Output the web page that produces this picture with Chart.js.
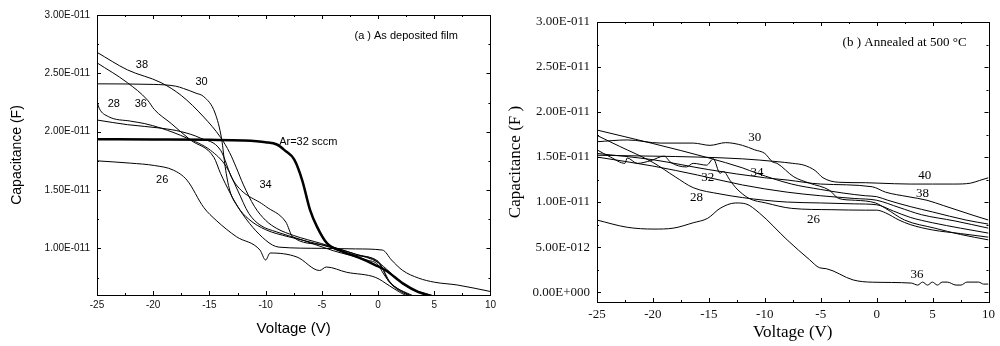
<!DOCTYPE html>
<html>
<head>
<meta charset="utf-8">
<script src="https://cdn.jsdelivr.net/npm/chart.js@4.4.1/dist/chart.umd.min.js"></script>
<style>
  html, body { margin: 0; padding: 0; background: #fff; }
  #wrap { position: relative; width: 1000px; height: 346px; }
  canvas { position: absolute; top: 0; }
</style>
</head>
<body>
<div id="wrap">
  <canvas id="chartA" width="500" height="346" style="left:0"></canvas>
  <canvas id="chartB" width="500" height="346" style="left:500px"></canvas>
</div>
<script>
// capacitance values are in pF (x 1e-12 F), voltage in V

// tick labels
const xTicks = [-25, -20, -15, -10, -5, 0, 5, 10];
const yTicksA = [10, 15, 20, 25, 30];
const yTicksB = [0, 5, 10, 15, 20, 25, 30];

// ---- (a) as deposited film ----
const a38x = [-25, -22.3, -19.3, -17.5, -15.5, -14, -13.2, -12.6, -12, -11, -10, -9, -7.5, -5, -2, 0, 0.5, 1, 2, 3];
const a38y = [26.8, 25.3, 24.2, 23.1, 21.25, 19.5, 18.2, 16.9, 15.5, 13.6, 12.4, 11.7, 11.1, 10.4, 9.5, 8.8, 8.1, 7.2, 6.4, 5.9];

const a36x = [-25, -22.3, -20.5, -19.9, -18.4, -16.7, -14.6, -14, -12.3, -10, -8.8, -5, -2, 0.4, 1.2, 2.2, 3.6, 5, 7.1, 10];
const a36y = [25.9, 24.2, 22.7, 21.9, 20.7, 19.3, 17.8, 16.4, 13.3, 10.7, 10.1, 10.0, 9.95, 9.85, 9.0, 8.1, 7.45, 7.1, 6.85, 6.3];

const a30x = [-25, -20, -18, -17.3, -16.2, -15.5, -14.5, -13.9, -13.6, -13.2, -12.5, -11.5, -10, -8, -5, -2, 0, 0.4, 0.8, 1.5, 2.5, 3.2];
const a30y = [24.1, 24.05, 23.9, 23.7, 23.3, 23.0, 21.6, 19.3, 17.0, 15.0, 13.6, 12.5, 11.6, 11.0, 10.3, 9.4, 8.9, 8.3, 7.4, 6.7, 6.2, 5.9];

const a28x = [-25, -24.8, -24, -22, -20.8, -19.3, -17, -14.9, -13.5, -12.5, -11.5, -10.5, -9, -7, -4, -1, 0, 0.5, 1.2, 2.2, 3];
const a28y = [22.6, 22.0, 21.3, 20.9, 20.7, 20.3, 19.45, 18.4, 17.0, 15.0, 13.0, 12.0, 11.4, 10.8, 9.8, 9.0, 8.6, 7.8, 6.9, 6.2, 5.9];

const a34x = [-25, -22.3, -19.3, -17.5, -15.8, -14, -12.9, -10, -8.2, -7.6, -5, -2, 0, 1, 2, 3, 4, 5];
const a34y = [21.0, 20.6, 20.3, 20.0, 19.45, 18.4, 15.85, 13.6, 12.25, 11.0, 10.3, 9.5, 8.8, 8.0, 7.1, 6.5, 6.2, 5.9];

const a32x = [-25, -20, -15, -12, -10, -9, -8.3, -7.45, -6.75, -6.05, -5.4, -4.55, -3.1, -1.7, -0.2, 0.7, 2.2, 3.6, 4.8];
const a32y = [19.35, 19.33, 19.3, 19.25, 19.1, 18.9, 18.4, 17.6, 15.85, 13.3, 11.8, 10.45, 9.7, 9.2, 8.55, 8.1, 7.0, 6.25, 5.9];

const a26x = [-25, -22, -19.9, -18.2, -17, -15.5, -14.4, -12.6, -10.5, -10, -9.6, -7.2, -5.2, -4.6, -2.8, -0.2, 1, 2, 2.6];
const a26y = [17.5, 17.3, 17.1, 16.7, 15.85, 13.5, 12.4, 11.0, 9.85, 9.0, 9.6, 9.25, 8.1, 8.4, 7.95, 7.5, 6.8, 6.2, 5.9];

// ---- (b) annealed at 500 C ----
const b40x = [-25, -20, -16, -12, -9, -7.5, -6.5, -5.5, -4.8, -3.4, -1, 0.2, 3, 5, 6.9, 8.4, 9.2, 10];
const b40y = [15.2, 15.1, 15.0, 14.8, 14.5, 14.3, 14.1, 13.5, 12.7, 12.2, 12.15, 12.1, 12.0, 12.0, 12.0, 12.1, 12.4, 12.7];

const b30x = [-25, -22.3, -19.3, -16.4, -14.9, -13.5, -12, -10.9, -10, -9.3, -8.9, -7.4, -6, -4.2, -3.4, -1.9, -0.1, 0.8, 2.5, 5.2, 7.5, 10];
const b30y = [16.7, 16.9, 16.55, 16.55, 16.3, 16.6, 16.3, 15.8, 15.4, 14.45, 14.3, 12.8, 12.1, 11.3, 10.4, 10.2, 9.9, 9.3, 8.0, 7.1, 6.4, 5.8];

const b34x = [-25, -20, -15, -12, -10.7, -7.6, -5, -3, -1, 0, 1, 3, 5, 8, 10];
const b34y = [18.0, 16.5, 14.9, 13.8, 13.2, 12.0, 11.4, 11.0, 10.7, 10.6, 10.2, 9.5, 8.9, 8.0, 7.55];

const b38x = [-25, -20, -15, -10, -8, -5, -0.4, 0.8, 2.8, 4.5, 6, 8.7, 10];
const b38y = [15.4, 14.7, 13.6, 12.7, 12.45, 12.0, 11.7, 11.1, 10.6, 10.2, 9.6, 8.5, 8.0];

const b28x = [-25, -23, -20, -18, -16.4, -14, -12, -10, -8, -5, -2, 0, 1.5, 3, 5, 7.5, 10];
const b28y = [17.4, 16.2, 14.4, 12.8, 11.6, 10.9, 10.5, 10.2, 10.0, 9.9, 9.8, 9.7, 9.0, 8.3, 7.7, 7.1, 6.55];

const b32x = [-25, -23.8, -22.5, -22.3, -21.4, -20.2, -19, -18.4, -17, -16.4, -15.2, -14.6, -14, -13.7, -13.1, -12.6, -11.4, -9.9, -7.6, -4, -1, 0, 0.8, 2, 3, 5, 7.5, 10];
const b32y = [15.8, 15.0, 14.3, 14.9, 14.3, 14.6, 15.1, 14.4, 13.9, 14.3, 14.1, 14.8, 13.2, 13.4, 12.4, 11.6, 10.4, 9.9, 9.3, 9.15, 9.1, 9.1, 8.8, 8.0, 7.5, 6.9, 6.5, 6.1];

const b26x = [-25, -20, -16, -12, -8, -5, -2, 0, 2, 4, 7, 10];
const b26y = [15.0, 14.0, 13.0, 11.9, 11.1, 10.7, 10.4, 10.2, 9.4, 8.6, 7.9, 7.1];

const b36x = [-25, -22.3, -19.9, -18.2, -16.4, -15.1, -14, -12.6, -11.7, -10.5, -8, -6, -5.1, -4.5, -2.1, -0.4, 3.1, 3.67, 4.11, 4.55, 4.99, 5.43, 5.87, 6.31, 7.1, 7.54, 8.07, 9.12, 9.56, 10];
const b36y = [8.0, 7.2, 7.0, 7.1, 7.7, 8.2, 9.3, 9.9, 9.8, 8.8, 5.8, 3.6, 2.7, 2.6, 1.35, 1.1, 1.0, 0.78, 1.11, 0.78, 1.11, 0.78, 1.11, 1.11, 0.78, 0.78, 1.11, 1.11, 0.89, 0.89];

// curve labels (text, voltage, capacitance)
const labelsA = [
  ['38', -21, 25.7], ['30', -15.7, 24.3], ['28', -23.5, 22.4], ['36', -21.1, 22.4],
  ['Ar=32 sccm', -6.2, 19.1], ['34', -10, 15.4], ['26', -19.2, 15.85],
  ['(a ) As deposited film', 2.5, 28.2]
];
const labelsB = [
  ['30', -10.9, 17.2], ['34', -10.7, 13.3], ['32', -15.1, 12.7], ['28', -16.1, 10.55],
  ['40', 4.3, 12.9], ['38', 4.1, 10.9], ['26', -5.65, 8.1], ['36', 3.6, 2.0],
  ['(b ) Annealed at 500 \u00B0C', 2.5, 27.7]
];

function pts(xs, ys) {
  return xs.map((v, i) => ({ x: v, y: ys[i] }));
}

// 3.00E-011 style labels
function sci(v) {
  const s = (v * 1e-12).toExponential(2);
  const [m, e] = s.split('e');
  const sign = e[0] === '-' ? '-' : '+';
  return m + 'E' + sign + String(Math.abs(parseInt(e))).padStart(3, '0');
}

// box around plot + inward ticks on all four sides
const frameTicks = {
  id: 'frameTicks',
  afterDatasetsDraw(chart, args, opts) {
    const { ctx, chartArea: a, scales: { x, y } } = chart;
    ctx.save();
    ctx.strokeStyle = '#000';
    ctx.lineWidth = 1;
    ctx.strokeRect(Math.round(a.left) + 0.5, Math.round(a.top) + 0.5,
      Math.round(a.right - a.left), Math.round(a.bottom - a.top));
    const minorOf = (maj, lo, hi) => {
      const step = maj[1] - maj[0];
      const out = [];
      for (let v = maj[0] - step / 2; v <= hi; v += step) if (v >= lo) out.push(v);
      return out;
    };
    const vline = (v, len) => {
      const p = Math.round(x.getPixelForValue(v)) + 0.5;
      ctx.moveTo(p, a.bottom); ctx.lineTo(p, a.bottom - len);
      ctx.moveTo(p, a.top); ctx.lineTo(p, a.top + len);
    };
    const hline = (v, len) => {
      const p = Math.round(y.getPixelForValue(v)) + 0.5;
      ctx.moveTo(a.left, p); ctx.lineTo(a.left + len, p);
      ctx.moveTo(a.right, p); ctx.lineTo(a.right - len, p);
    };
    ctx.beginPath();
    xTicks.forEach(v => vline(v, opts.major));
    minorOf(xTicks, x.min, x.max).forEach(v => vline(v, opts.minor));
    opts.yTicks.forEach(v => hline(v, opts.major));
    minorOf(opts.yTicks, y.min, y.max).forEach(v => hline(v, opts.minor));
    ctx.stroke();
    ctx.restore();
  }
};

const curveLabels = {
  id: 'curveLabels',
  afterDraw(chart, args, opts) {
    const { ctx, scales: { x, y } } = chart;
    ctx.save();
    ctx.font = opts.font;
    ctx.fillStyle = '#000';
    ctx.textAlign = 'center';
    ctx.textBaseline = 'middle';
    opts.items.forEach(([t, vx, vy]) => ctx.fillText(t, x.getPixelForValue(vx), y.getPixelForValue(vy)));
    ctx.restore();
  }
};

function line(xs, ys, width) {
  return {
    data: pts(xs, ys),
    borderColor: '#000',
    borderWidth: width || 1,
    pointRadius: 0,
    fill: false,
    cubicInterpolationMode: 'monotone'
  };
}

function makeChart(el, cfg) {
  return new Chart(el, {
    type: 'line',
    data: { datasets: cfg.datasets },
    plugins: [frameTicks, curveLabels],
    options: {
      responsive: false,
      animation: false,
      events: [],
      layout: { padding: cfg.padding },
      plugins: {
        legend: { display: false },
        tooltip: { enabled: false },
        frameTicks: { yTicks: cfg.yTicks, major: 4, minor: 2 },
        curveLabels: { items: cfg.labels, font: cfg.labelFont }
      },
      scales: {
        x: {
          type: 'linear',
          min: -25,
          max: 10,
          afterBuildTicks: s => { s.ticks = xTicks.map(v => ({ value: v })); },
          afterFit: s => { s.height = cfg.xHeight; },
          grid: { display: false, drawTicks: false },
          border: { display: false },
          ticks: { autoSkip: false, maxRotation: 0, padding: cfg.xPad, color: '#111', font: cfg.tickFont },
          title: { display: true, text: 'Voltage (V)', color: '#000', font: cfg.xTitleFont, padding: { top: 0, bottom: cfg.xTitlePad } }
        },
        y: {
          type: 'linear',
          min: cfg.yMin,
          max: 30,
          afterBuildTicks: s => { s.ticks = cfg.yTicks.map(v => ({ value: v })); },
          afterFit: s => { s.width = 97; },
          grid: { display: false, drawTicks: false },
          border: { display: false },
          ticks: { padding: 7, color: '#111', font: cfg.tickFont, callback: v => sci(v) },
          title: { display: true, text: cfg.yTitle, color: '#000', font: cfg.yTitleFont, padding: { top: cfg.yTitlePad, bottom: 0 } }
        }
      }
    }
  });
}

const sans = 'Liberation Sans, Arial, sans-serif';
const serif = 'Liberation Serif, Times New Roman, serif';

makeChart(document.getElementById('chartA'), {
  datasets: [
    line(a38x, a38y), line(a36x, a36y), line(a30x, a30y), line(a28x, a28y),
    line(a34x, a34y), line(a32x, a32y, 2.5), line(a26x, a26y)
  ],
  padding: { left: 0, right: 4, top: 15, bottom: 0 },
  yMin: 6,
  yTicks: yTicksA,
  xHeight: 51,
  xPad: 4,
  tickFont: { family: sans, size: 10 },
  xTitleFont: { family: sans, size: 15 },
  xTitlePad: 8,
  yTitle: 'Capacitance (F)',
  yTitleFont: { family: sans, size: 14 },
  yTitlePad: 9,
  labels: labelsA,
  labelFont: '11px ' + sans
});

makeChart(document.getElementById('chartB'), {
  datasets: [
    line(b40x, b40y), line(b30x, b30y), line(b34x, b34y), line(b38x, b38y),
    line(b28x, b28y), line(b32x, b32y), line(b26x, b26y), line(b36x, b36y)
  ],
  padding: { left: 0, right: 5, top: 22, bottom: 0 },
  yMin: -1.1,
  yTicks: yTicksB,
  xHeight: 44,
  xPad: 5,
  tickFont: { family: serif, size: 13 },
  xTitleFont: { family: serif, size: 17 },
  xTitlePad: 3,
  yTitle: 'Capacitance (F )',
  yTitleFont: { family: serif, size: 17 },
  yTitlePad: 5,
  labels: labelsB,
  labelFont: '13px ' + serif
});
</script>
</body>
</html>
